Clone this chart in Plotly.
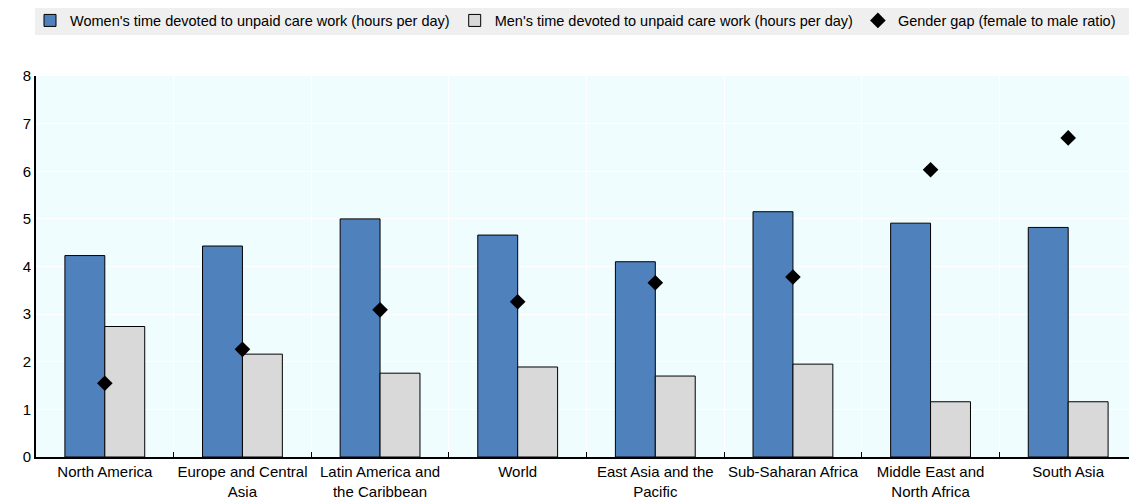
import plotly.graph_objects as go

categories = ["North America", "Europe and Central<br>Asia", "Latin America and<br>the Caribbean", "World",
              "East Asia and the<br>Pacific", "Sub-Saharan Africa", "Middle East and<br>North Africa", "South Asia"]
women_hours = [4.23, 4.43, 5.00, 4.66, 4.10, 5.15, 4.91, 4.82]
men_hours = [2.74, 2.16, 1.76, 1.89, 1.70, 1.95, 1.16, 1.16]
gender_gap = [1.55, 2.26, 3.09, 3.26, 3.66, 3.78, 6.03, 6.70]
y_ticks = [0, 1, 2, 3, 4, 5, 6, 7, 8]

FONT = "Liberation Sans, Arial, sans-serif"

# The page body has an 8px default margin; size the figure so it ends at the window edge.
W, H = 1129, 496

fig = go.Figure()
fig.add_trace(go.Bar(x=categories, y=women_hours,
                     name="Women's time devoted to unpaid care work (hours per day)",
                     marker=dict(color="#4F81BD", line=dict(color="black", width=1))))
fig.add_trace(go.Bar(x=categories, y=men_hours,
                     name="Men's time devoted to unpaid care work (hours per day)",
                     marker=dict(color="#D9D9D9", line=dict(color="black", width=1))))
fig.add_trace(go.Scatter(x=categories, y=gender_gap, mode="markers",
                         name="Gender gap (female to male ratio)",
                         marker=dict(symbol="diamond", size=12, color="black")))

fig.add_shape(type="rect", xref="paper", yref="paper", x0=-0.001, x1=1.0, y0=1.1076, y1=1.1837,
              fillcolor="#EFEFEF", line=dict(width=0), layer="below")

fig.update_layout(
    width=W, height=H,
    margin=dict(l=28, r=0, t=68, b=47, autoexpand=False),
    paper_bgcolor="white", plot_bgcolor="#F0FDFF",
    barmode="group", bargap=0.42, bargroupgap=0,
    font=dict(family=FONT, size=15, color="black"),
    showlegend=True,
    legend=dict(orientation="h", xref="container", yref="container",
                x=22 / W, y=1 - 12.5 / H, xanchor="left", yanchor="middle",
                bgcolor="rgba(0,0,0,0)", font=dict(size=14.5), itemwidth=30,
                traceorder="normal"),
    xaxis=dict(showgrid=True, gridcolor="white", gridwidth=1, tickson="boundaries",
               ticks="inside", ticklen=5, tickcolor="black", showline=True,
               linecolor="black", linewidth=2, tickfont=dict(size=15), tickangle=0,
               automargin=False),
    yaxis=dict(range=[0, 8], tickvals=y_ticks, showgrid=True, gridcolor="white", gridwidth=1,
               showline=True, linecolor="black", linewidth=2, ticks="", zeroline=False,
               tickfont=dict(size=15), automargin=False),
)

fig.write_html("out.html")
